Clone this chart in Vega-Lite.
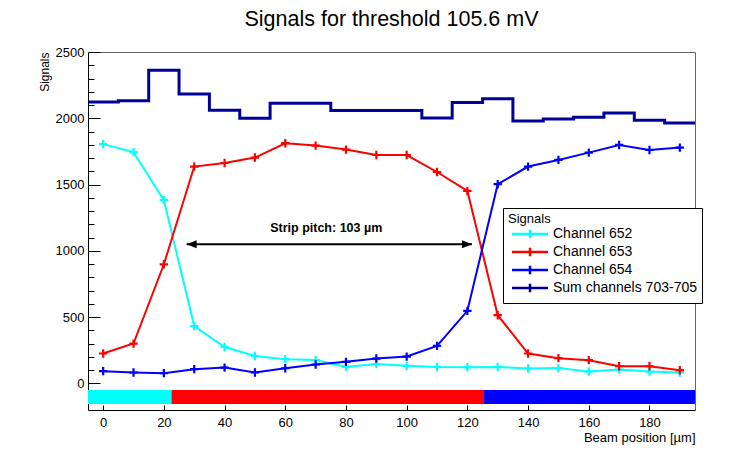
{
  "$schema": "https://vega.github.io/schema/vega-lite/v6.json",
  "width": 607,
  "height": 358,
  "autosize": "none",
  "padding": {"left": 88, "top": 52, "right": 61, "bottom": 45},
  "background": "white",
  "title": {"text": "Signals for threshold 105.6 mV", "fontSize": 21.5, "font": "Liberation Sans", "fontWeight": "normal", "color": "black", "anchor": "middle", "offset": 16},
  "config": {
    "view": {"stroke": "#666666", "strokeWidth": 1},
    "font": "Liberation Sans",
    "legend": {
      "orient": "none", "legendX": 415, "legendY": 156,
      "strokeColor": "black", "fillColor": "white", "padding": 5,
      "titleFontSize": 13, "titleFontWeight": "normal", "titleColor": "black", "titlePadding": 1,
      "labelFontSize": 14, "labelColor": "black",
      "symbolType": "M-6,0H6M0,-1.4V1.4", "symbolSize": 36, "symbolStrokeWidth": 2.5,
      "symbolFillColor": "transparent", "rowPadding": -2, "labelOffset": 16, "symbolOffset": 15
    }
  },
  "datasets": {
    "channels": [
      {"x": 0, "series": "Channel 652", "value": 1805}, {"x": 10, "series": "Channel 652", "value": 1745}, {"x": 20, "series": "Channel 652", "value": 1383}, {"x": 30, "series": "Channel 652", "value": 433}, {"x": 40, "series": "Channel 652", "value": 275}, {"x": 50, "series": "Channel 652", "value": 207}, {"x": 60, "series": "Channel 652", "value": 183}, {"x": 70, "series": "Channel 652", "value": 177}, {"x": 80, "series": "Channel 652", "value": 125}, {"x": 90, "series": "Channel 652", "value": 146}, {"x": 100, "series": "Channel 652", "value": 133}, {"x": 110, "series": "Channel 652", "value": 125}, {"x": 120, "series": "Channel 652", "value": 123}, {"x": 130, "series": "Channel 652", "value": 125}, {"x": 140, "series": "Channel 652", "value": 113}, {"x": 150, "series": "Channel 652", "value": 116}, {"x": 160, "series": "Channel 652", "value": 90}, {"x": 170, "series": "Channel 652", "value": 105}, {"x": 180, "series": "Channel 652", "value": 90}, {"x": 190, "series": "Channel 652", "value": 83},
      {"x": 0, "series": "Channel 653", "value": 226}, {"x": 10, "series": "Channel 653", "value": 301}, {"x": 20, "series": "Channel 653", "value": 899}, {"x": 30, "series": "Channel 653", "value": 1636}, {"x": 40, "series": "Channel 653", "value": 1663}, {"x": 50, "series": "Channel 653", "value": 1704}, {"x": 60, "series": "Channel 653", "value": 1812}, {"x": 70, "series": "Channel 653", "value": 1794}, {"x": 80, "series": "Channel 653", "value": 1764}, {"x": 90, "series": "Channel 653", "value": 1723}, {"x": 100, "series": "Channel 653", "value": 1723}, {"x": 110, "series": "Channel 653", "value": 1595}, {"x": 120, "series": "Channel 653", "value": 1452}, {"x": 130, "series": "Channel 653", "value": 515}, {"x": 140, "series": "Channel 653", "value": 226}, {"x": 150, "series": "Channel 653", "value": 191}, {"x": 160, "series": "Channel 653", "value": 176}, {"x": 170, "series": "Channel 653", "value": 130}, {"x": 180, "series": "Channel 653", "value": 130}, {"x": 190, "series": "Channel 653", "value": 100},
      {"x": 0, "series": "Channel 654", "value": 93}, {"x": 10, "series": "Channel 654", "value": 83}, {"x": 20, "series": "Channel 654", "value": 78}, {"x": 30, "series": "Channel 654", "value": 108}, {"x": 40, "series": "Channel 654", "value": 120}, {"x": 50, "series": "Channel 654", "value": 83}, {"x": 60, "series": "Channel 654", "value": 115}, {"x": 70, "series": "Channel 654", "value": 143}, {"x": 80, "series": "Channel 654", "value": 163}, {"x": 90, "series": "Channel 654", "value": 188}, {"x": 100, "series": "Channel 654", "value": 203}, {"x": 110, "series": "Channel 654", "value": 284}, {"x": 120, "series": "Channel 654", "value": 548}, {"x": 130, "series": "Channel 654", "value": 1503}, {"x": 140, "series": "Channel 654", "value": 1636}, {"x": 150, "series": "Channel 654", "value": 1686}, {"x": 160, "series": "Channel 654", "value": 1741}, {"x": 170, "series": "Channel 654", "value": 1799}, {"x": 180, "series": "Channel 654", "value": 1761}, {"x": 190, "series": "Channel 654", "value": 1779}
    ],
    "sum": [
      {"x": -5, "series": "Sum channels 703-705", "value": 2122}, {"x": 5, "series": "Sum channels 703-705", "value": 2133}, {"x": 15, "series": "Sum channels 703-705", "value": 2362}, {"x": 25, "series": "Sum channels 703-705", "value": 2183}, {"x": 35, "series": "Sum channels 703-705", "value": 2060}, {"x": 45, "series": "Sum channels 703-705", "value": 2000}, {"x": 55, "series": "Sum channels 703-705", "value": 2114}, {"x": 65, "series": "Sum channels 703-705", "value": 2114}, {"x": 75, "series": "Sum channels 703-705", "value": 2058}, {"x": 85, "series": "Sum channels 703-705", "value": 2058}, {"x": 95, "series": "Sum channels 703-705", "value": 2058}, {"x": 105, "series": "Sum channels 703-705", "value": 2003}, {"x": 115, "series": "Sum channels 703-705", "value": 2120}, {"x": 125, "series": "Sum channels 703-705", "value": 2147}, {"x": 135, "series": "Sum channels 703-705", "value": 1980}, {"x": 145, "series": "Sum channels 703-705", "value": 1995}, {"x": 155, "series": "Sum channels 703-705", "value": 2008}, {"x": 165, "series": "Sum channels 703-705", "value": 2040}, {"x": 175, "series": "Sum channels 703-705", "value": 1985}, {"x": 185, "series": "Sum channels 703-705", "value": 1965}, {"x": 195, "series": "Sum channels 703-705", "value": 1965}
    ],
    "bands": [
      {"x": -5, "xEnd": 22.5, "series": "Channel 652"},
      {"x": 22.5, "xEnd": 125.5, "series": "Channel 653"},
      {"x": 125.5, "xEnd": 195, "series": "Channel 654"}
    ],
    "arrow": [
      {"x": 27.5, "xEnd": 121.5, "value": 1050, "label": "Strip pitch: 103 µm", "labelX": 73.5, "labelY": 1176}
    ]
  },
  "resolve": {"axis": {"y": "independent"}},
  "layer": [
    {
      "data": {"name": "bands"},
      "mark": {"type": "rect"},
      "encoding": {
        "x": {"field": "x", "type": "quantitative", "scale": {"domain": [-5, 195], "nice": false, "zero": false}, "title": "Beam position [µm]"},
        "x2": {"field": "xEnd"},
        "y": {"datum": -50, "type": "quantitative", "scale": {"domain": [-200, 2500], "nice": false, "zero": false}, "axis": null},
        "y2": {"datum": -155},
        "color": {"field": "series", "type": "nominal"}
      }
    },
    {
      "data": {"name": "sum"},
      "mark": {"type": "line", "interpolate": "step-after", "strokeWidth": 3},
      "encoding": {
        "x": {"field": "x", "type": "quantitative", "title": "Beam position [µm]"},
        "y": {"field": "value", "type": "quantitative", "scale": {"domain": [-200, 2500], "nice": false, "zero": false},
          "axis": {"orient": "left", "values": [0,100,200,300,400,600,700,800,900,1100,1200,1300,1400,1600,1700,1800,1900,2100,2200,2300,2400], "tickSize": -6, "tickColor": "black", "labels": false, "domain": false, "grid": false, "title": null}},
        "color": {"field": "series", "type": "nominal"}
      }
    },
    {
      "data": {"name": "channels"},
      "mark": {"type": "line", "strokeWidth": 2, "point": {"shape": "M-1,0H1M0,-1V1", "filled": false, "size": 70, "strokeWidth": 2.2}},
      "encoding": {
        "x": {"field": "x", "type": "quantitative", "title": "Beam position [µm]",
          "axis": {"values": [0,5,10,15,20,25,30,35,40,45,50,55,60,65,70,75,80,85,90,95,100,105,110,115,120,125,130,135,140,145,150,155,160,165,170,175,180,185,190],
            "labelExpr": "datum.value % 20 == 0 ? datum.label : ''", "tickSize": -5, "tickColor": "black", "domainColor": "black",
            "labelFontSize": 13, "labelColor": "black", "labelPadding": 11, "grid": false,
            "titleAnchor": "end", "titleFontSize": 13, "titleFontWeight": "normal", "titleColor": "black", "titlePadding": 2}},
        "y": {"field": "value", "type": "quantitative", "scale": {"domain": [-200, 2500], "nice": false, "zero": false},
          "axis": {"orient": "left", "values": [0,500,1000,1500,2000,2500], "format": "d", "tickSize": -12, "tickColor": "black", "domainColor": "black",
            "labelFontSize": 13, "labelColor": "black", "labelPadding": 16, "grid": false,
            "title": "Signals", "titleAnchor": "end", "titleFontSize": 12, "titleFontWeight": "normal", "titleColor": "black", "titlePadding": 4}},
        "color": {"field": "series", "type": "nominal",
          "scale": {"domain": ["Channel 652", "Channel 653", "Channel 654", "Sum channels 703-705"], "range": ["#00FFFF", "#FF0000", "#0000FF", "#000099"]},
          "legend": {"title": "Signals"}}
      }
    },
    {
      "data": {"name": "arrow"},
      "mark": {"type": "rule", "strokeWidth": 2, "color": "black"},
      "encoding": {
        "x": {"field": "x", "type": "quantitative"},
        "x2": {"field": "xEnd"},
        "y": {"field": "value", "type": "quantitative", "axis": null}
      }
    },
    {
      "data": {"name": "arrow"},
      "mark": {"type": "point", "shape": "M0,0L2,-0.8L2,0.8Z", "filled": true, "color": "black", "size": 100, "opacity": 1},
      "encoding": {
        "x": {"field": "x", "type": "quantitative"},
        "y": {"field": "value", "type": "quantitative", "axis": null}
      }
    },
    {
      "data": {"name": "arrow"},
      "mark": {"type": "point", "shape": "M0,0L-2,-0.8L-2,0.8Z", "filled": true, "color": "black", "size": 100, "opacity": 1},
      "encoding": {
        "x": {"field": "xEnd", "type": "quantitative"},
        "y": {"field": "value", "type": "quantitative", "axis": null}
      }
    },
    {
      "data": {"name": "arrow"},
      "mark": {"type": "text", "fontSize": 12.5, "fontWeight": "bold", "color": "black", "align": "center", "baseline": "middle"},
      "encoding": {
        "x": {"field": "labelX", "type": "quantitative"},
        "y": {"field": "labelY", "type": "quantitative", "axis": null},
        "text": {"field": "label"}
      }
    }
  ]
}
